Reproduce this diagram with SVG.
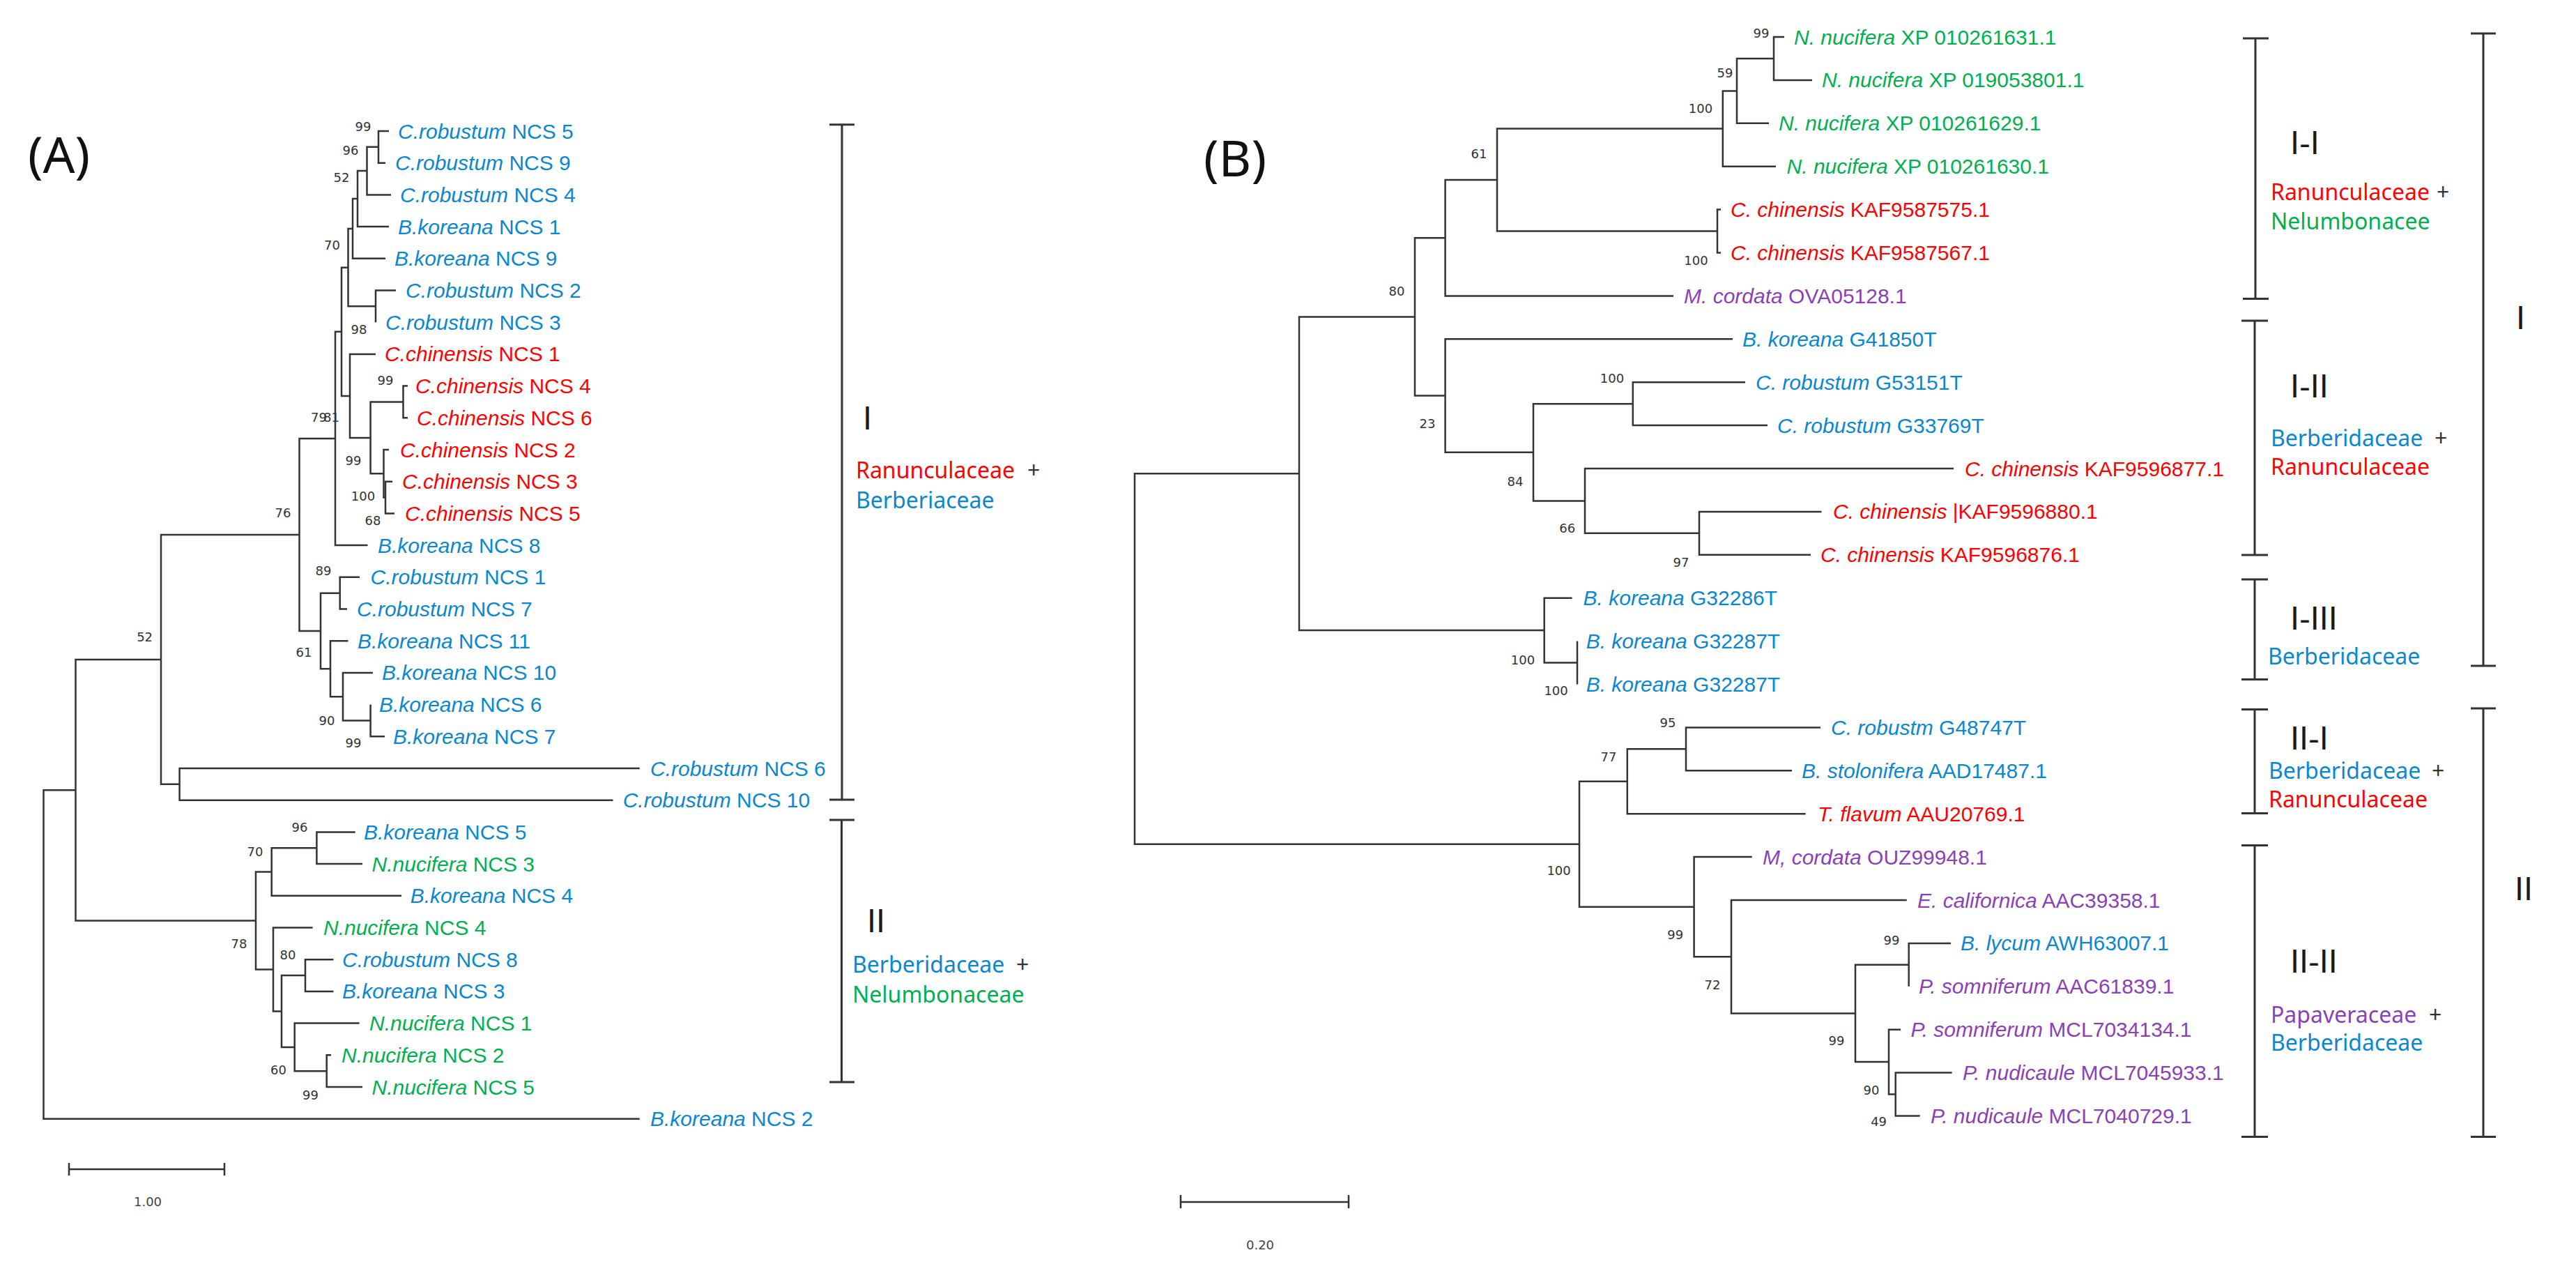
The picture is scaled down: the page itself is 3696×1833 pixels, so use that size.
<svg xmlns="http://www.w3.org/2000/svg" width="3696" height="1833" viewBox="0 0 3696 1833">
<style>
.br{fill:none;stroke:#333;stroke-width:2.5}
.bk{fill:none;stroke:#333;stroke-width:3}
.lf{font-family:"Liberation Sans",Arial,sans-serif;font-size:30px}
.sp{font-style:italic}
.bs{font-family:"DejaVu Sans",Verdana,sans-serif;font-size:18px;fill:#333;text-anchor:middle}
.fam{font-family:"Noto Sans","Open Sans",sans-serif;font-size:32px}
.rom{font-family:"DejaVu Sans",Verdana,sans-serif;font-size:44px;fill:#1a1a1a}
.pl{font-family:"Noto Sans","Open Sans",sans-serif;font-size:72px;fill:#111}
.sc{font-family:"DejaVu Sans",Verdana,sans-serif;font-size:18px;fill:#444;text-anchor:middle}
.b{fill:#0A87CF}.r{fill:#FF0000}.g{fill:#00B050}.p{fill:#8B3FB8}.k{fill:#333}
</style>
<rect width="3696" height="1833" fill="#fff"/>

<g id="panel-labels">
<text class="pl" x="40" y="248">(A)</text>
<text class="pl" x="1727" y="253">(B)</text>
</g>

<g id="connectors">
<!-- Panel A -->
<path class="br" d="M558 188H543V233.7H553"/>
<path class="br" d="M543 210.85H526.5V279.4H561"/>
<path class="br" d="M526.5 245.1H513V325.1H558"/>
<path class="br" d="M513 285.1H506V370.8H553"/>
<path class="br" d="M568 416.5H539V462.2"/>
<path class="br" d="M506 327.95H499.5V439.35H539"/>
<path class="br" d="M585 553.6H578.5V599.3H585"/>
<path class="br" d="M563 690.7H553V736.4H566"/>
<path class="br" d="M558 645H550.5V713.55H553"/>
<path class="br" d="M578.5 576.45H531.6V679.3H550.5"/>
<path class="br" d="M539 507.9H502V627.9H531.6"/>
<path class="br" d="M499.5 383.65H490V567.9H502"/>
<path class="br" d="M490 475.8H481V782.1H527.5"/>
<path class="br" d="M516 827.8H487.7V873.5H498"/>
<path class="br" d="M531.6 1010.6V1056.3H552"/>
<path class="br" d="M535 964.9H492V1033.45H531.6"/>
<path class="br" d="M499.5 919.2H474V999.2H492"/>
<path class="br" d="M487.7 850.65H460V959.2H474"/>
<path class="br" d="M481 628.95H429.5V904.9H460"/>
<path class="br" d="M917.7 1102H257.6V1147.7H879.5"/>
<path class="br" d="M429.5 766.9H231V1124.85H257.6"/>
<path class="br" d="M509.7 1193.4H454.4V1239.1H520"/>
<path class="br" d="M454.4 1216.25H389.7V1284.8H576"/>
<path class="br" d="M478.5 1376.2H438V1421.9H478.5"/>
<path class="br" d="M475 1513.3H468.7V1559H520"/>
<path class="br" d="M515.6 1467.6H422.7V1536.15H468.7"/>
<path class="br" d="M438 1399.05H404V1501.9H422.7"/>
<path class="br" d="M448.6 1330.5H392V1450.5H404"/>
<path class="br" d="M389.7 1250.5H367V1390.5H392"/>
<path class="br" d="M231 945.9H108.5V1320.5H367"/>
<path class="br" d="M108.5 1133.2H62.5V1604.7H917.7"/>
<!-- Panel B -->
<path class="br" d="M2560 53H2545V114.9H2600"/>
<path class="br" d="M2545 84H2492V176.8H2538"/>
<path class="br" d="M2492 130.4H2471.8V238.7H2548"/>
<path class="br" d="M2469 300.6H2464V362.5H2469"/>
<path class="br" d="M2471.8 184.5H2148V331.5H2464"/>
<path class="br" d="M2148 258H2073.6V424.4H2401"/>
<path class="br" d="M2504 548.2H2342.8V610.1H2536"/>
<path class="br" d="M2613.5 733.9H2438V795.8H2598"/>
<path class="br" d="M2803 672H2274V764.85H2438"/>
<path class="br" d="M2342.8 579.15H2200V718.4H2274"/>
<path class="br" d="M2486 486.3H2073.6V648.8H2200"/>
<path class="br" d="M2073.6 341.2H2030V567.55H2073.6"/>
<path class="br" d="M2263 919.6V981.5"/>
<path class="br" d="M2255.6 857.7H2215.7V950.55H2263"/>
<path class="br" d="M2030 454.4H1864V904.1H2215.7"/>
<path class="br" d="M2612 1043.4H2419V1105.3H2571"/>
<path class="br" d="M2419 1074.35H2334.8V1167.2H2590.6"/>
<path class="br" d="M2799 1352.9H2738.7V1414.8"/>
<path class="br" d="M2800.6 1538.6H2719.7V1600.5H2754.7"/>
<path class="br" d="M2727 1476.7H2710V1569.55H2719.7"/>
<path class="br" d="M2738.7 1383.85H2662V1523.1H2710"/>
<path class="br" d="M2735.8 1291H2484V1453.5H2662"/>
<path class="br" d="M2513.7 1229.1H2430.6V1372.25H2484"/>
<path class="br" d="M2334.8 1120.8H2266V1300.7H2430.6"/>
<path class="br" d="M1864 679.25H1628V1210.75H2266"/>
</g>

<g id="bootstrap">
<text class="bs" x="521" y="187.5">99</text>
<text class="bs" x="503" y="221.5">96</text>
<text class="bs" x="490" y="260.5">52</text>
<text class="bs" x="476.5" y="357.5">70</text>
<text class="bs" x="515" y="478.5">98</text>
<text class="bs" x="457.5" y="604.5">79</text>
<text class="bs" x="475.5" y="604.5">81</text>
<text class="bs" x="553" y="551.5">99</text>
<text class="bs" x="507" y="666.5">99</text>
<text class="bs" x="521" y="717.5">100</text>
<text class="bs" x="535" y="752.5">68</text>
<text class="bs" x="406" y="741.5">76</text>
<text class="bs" x="464" y="825">89</text>
<text class="bs" x="436" y="942">61</text>
<text class="bs" x="469" y="1039.5">90</text>
<text class="bs" x="507" y="1072">99</text>
<text class="bs" x="207.6" y="919.5">52</text>
<text class="bs" x="430" y="1192.5">96</text>
<text class="bs" x="366" y="1227.5">70</text>
<text class="bs" x="343" y="1359.5">78</text>
<text class="bs" x="413" y="1375.5">80</text>
<text class="bs" x="399.5" y="1541">60</text>
<text class="bs" x="445.5" y="1576.5">99</text>

<text class="bs" x="2527" y="53.5">99</text>
<text class="bs" x="2475" y="110.5">59</text>
<text class="bs" x="2440" y="161.5">100</text>
<text class="bs" x="2122" y="227">61</text>
<text class="bs" x="2433.5" y="380">100</text>
<text class="bs" x="2004" y="423.5">80</text>
<text class="bs" x="2313" y="549">100</text>
<text class="bs" x="2048" y="613.5">23</text>
<text class="bs" x="2174" y="696.5">84</text>
<text class="bs" x="2248.7" y="763.5">66</text>
<text class="bs" x="2412" y="812.5">97</text>
<text class="bs" x="2185" y="952.5">100</text>
<text class="bs" x="2232.6" y="997">100</text>
<text class="bs" x="2393" y="1043">95</text>
<text class="bs" x="2308" y="1091.5">77</text>
<text class="bs" x="2236.6" y="1254.5">100</text>
<text class="bs" x="2403.7" y="1346.5">99</text>
<text class="bs" x="2714" y="1354.5">99</text>
<text class="bs" x="2457" y="1418.5">72</text>
<text class="bs" x="2635" y="1498.5">99</text>
<text class="bs" x="2685" y="1570">90</text>
<text class="bs" x="2695.6" y="1614.5">49</text>
</g>

<g id="leaves-A" class="lf">
<g id="a1"><text class="b" x="571" y="198.5"><tspan class="sp">C.robustum</tspan> NCS 5</text></g>
<g id="a2"><text class="b" x="567" y="244.2"><tspan class="sp">C.robustum</tspan> NCS 9</text></g>
<g id="a3"><text class="b" x="574" y="289.9"><tspan class="sp">C.robustum</tspan> NCS 4</text></g>
<g id="a4"><text class="b" x="571" y="335.6"><tspan class="sp">B.koreana</tspan> NCS 1</text></g>
<g id="a5"><text class="b" x="566" y="381.3"><tspan class="sp">B.koreana</tspan> NCS 9</text></g>
<g id="a6"><text class="b" x="582" y="427"><tspan class="sp">C.robustum</tspan> NCS 2</text></g>
<g id="a7"><text class="b" x="553" y="472.7"><tspan class="sp">C.robustum</tspan> NCS 3</text></g>
<g id="a8"><text class="r" x="552" y="518.4"><tspan class="sp">C.chinensis</tspan> NCS 1</text></g>
<g id="a9"><text class="r" x="596" y="564.1"><tspan class="sp">C.chinensis</tspan> NCS 4</text></g>
<g id="a10"><text class="r" x="598" y="609.8"><tspan class="sp">C.chinensis</tspan> NCS 6</text></g>
<g id="a11"><text class="r" x="574" y="655.5"><tspan class="sp">C.chinensis</tspan> NCS 2</text></g>
<g id="a12"><text class="r" x="577" y="701.2"><tspan class="sp">C.chinensis</tspan> NCS 3</text></g>
<g id="a13"><text class="r" x="581" y="746.9"><tspan class="sp">C.chinensis</tspan> NCS 5</text></g>
<g id="a14"><text class="b" x="542" y="792.6"><tspan class="sp">B.koreana</tspan> NCS 8</text></g>
<g id="a15"><text class="b" x="531.6" y="838.3"><tspan class="sp">C.robustum</tspan> NCS 1</text></g>
<g id="a16"><text class="b" x="512" y="884"><tspan class="sp">C.robustum</tspan> NCS 7</text></g>
<g id="a17"><text class="b" x="513" y="929.7"><tspan class="sp">B.koreana</tspan> NCS 11</text></g>
<g id="a18"><text class="b" x="548" y="975.4"><tspan class="sp">B.koreana</tspan> NCS 10</text></g>
<g id="a19"><text class="b" x="544" y="1021.1"><tspan class="sp">B.koreana</tspan> NCS 6</text></g>
<g id="a20"><text class="b" x="564" y="1066.8"><tspan class="sp">B.koreana</tspan> NCS 7</text></g>
<g id="a21"><text class="b" x="933" y="1112.5"><tspan class="sp">C.robustum</tspan> NCS 6</text></g>
<g id="a22"><text class="b" x="893.7" y="1158.2"><tspan class="sp">C.robustum</tspan> NCS 10</text></g>
<g id="a23"><text class="b" x="522" y="1203.9"><tspan class="sp">B.koreana</tspan> NCS 5</text></g>
<g id="a24"><text class="g" x="533.6" y="1249.6"><tspan class="sp">N.nucifera</tspan> NCS 3</text></g>
<g id="a25"><text class="b" x="588.7" y="1295.3"><tspan class="sp">B.koreana</tspan> NCS 4</text></g>
<g id="a26"><text class="g" x="464" y="1341"><tspan class="sp">N.nucifera</tspan> NCS 4</text></g>
<g id="a27"><text class="b" x="491" y="1386.7"><tspan class="sp">C.robustum</tspan> NCS 8</text></g>
<g id="a28"><text class="b" x="491" y="1432.4"><tspan class="sp">B.koreana</tspan> NCS 3</text></g>
<g id="a29"><text class="g" x="530" y="1478.1"><tspan class="sp">N.nucifera</tspan> NCS 1</text></g>
<g id="a30"><text class="g" x="490" y="1523.8"><tspan class="sp">N.nucifera</tspan> NCS 2</text></g>
<g id="a31"><text class="g" x="533.5" y="1569.5"><tspan class="sp">N.nucifera</tspan> NCS 5</text></g>
<g id="a32"><text class="b" x="933" y="1615.2"><tspan class="sp">B.koreana</tspan> NCS 2</text></g>
</g>

<g id="leaves-B" class="lf">
<g id="b1"><text class="g" x="2574" y="63.5"><tspan class="sp">N. nucifera</tspan> XP 010261631.1</text></g>
<g id="b2"><text class="g" x="2614" y="125.4"><tspan class="sp">N. nucifera</tspan> XP 019053801.1</text></g>
<g id="b3"><text class="g" x="2552" y="187.3"><tspan class="sp">N. nucifera</tspan> XP 010261629.1</text></g>
<g id="b4"><text class="g" x="2563.6" y="249.2"><tspan class="sp">N. nucifera</tspan> XP 010261630.1</text></g>
<g id="b5"><text class="r" x="2483" y="311.1"><tspan class="sp">C. chinensis</tspan> KAF9587575.1</text></g>
<g id="b6"><text class="r" x="2483" y="373"><tspan class="sp">C. chinensis</tspan> KAF9587567.1</text></g>
<g id="b7"><text class="p" x="2416" y="434.9"><tspan class="sp">M. cordata</tspan> OVA05128.1</text></g>
<g id="b8"><text class="b" x="2500" y="496.8"><tspan class="sp">B. koreana</tspan> G41850T</text></g>
<g id="b9"><text class="b" x="2519" y="558.7"><tspan class="sp">C. robustum</tspan> G53151T</text></g>
<g id="b10"><text class="b" x="2550" y="620.6"><tspan class="sp">C. robustum</tspan> G33769T</text></g>
<g id="b11"><text class="r" x="2819" y="682.5"><tspan class="sp">C. chinensis</tspan> KAF9596877.1</text></g>
<g id="b12"><text class="r" x="2630" y="744.4"><tspan class="sp">C. chinensis</tspan> |KAF9596880.1</text></g>
<g id="b13"><text class="r" x="2612" y="806.3"><tspan class="sp">C. chinensis</tspan> KAF9596876.1</text></g>
<g id="b14"><text class="b" x="2271.6" y="868.2"><tspan class="sp">B. koreana</tspan> G32286T</text></g>
<g id="b15"><text class="b" x="2275.7" y="930.1"><tspan class="sp">B. koreana</tspan> G32287T</text></g>
<g id="b16"><text class="b" x="2275.7" y="992"><tspan class="sp">B. koreana</tspan> G32287T</text></g>
<g id="b17"><text class="b" x="2627" y="1053.9"><tspan class="sp">C. robustm</tspan> G48747T</text></g>
<g id="b18"><text class="b" x="2585" y="1115.8"><tspan class="sp">B. stolonifera</tspan> AAD17487.1</text></g>
<g id="b19"><text class="r" x="2608" y="1177.7"><tspan class="sp">T. flavum</tspan> AAU20769.1</text></g>
<g id="b20"><text class="p" x="2529" y="1239.6"><tspan class="sp">M, cordata</tspan> OUZ99948.1</text></g>
<g id="b21"><text class="p" x="2751" y="1301.5"><tspan class="sp">E. californica</tspan> AAC39358.1</text></g>
<g id="b22"><text class="b" x="2813" y="1363.4"><tspan class="sp">B. lycum</tspan> AWH63007.1</text></g>
<g id="b23"><text class="p" x="2753" y="1425.3"><tspan class="sp">P. somniferum</tspan> AAC61839.1</text></g>
<g id="b24"><text class="p" x="2741.5" y="1487.2"><tspan class="sp">P. somniferum</tspan> MCL7034134.1</text></g>
<g id="b25"><text class="p" x="2816" y="1549.1"><tspan class="sp">P. nudicaule</tspan> MCL7045933.1</text></g>
<g id="b26"><text class="p" x="2770" y="1611"><tspan class="sp">P. nudicaule</tspan> MCL7040729.1</text></g>
</g>

<g id="clade-A-I">
<path class="bk" d="M1190 178.7H1226M1208 178.7V1147M1190 1147H1226"/>
<text class="rom" x="1238" y="616">I</text>
<text class="fam r" x="1228" y="686">Ranunculaceae</text>
<text class="fam k" x="1474" y="686">+</text>
<text class="fam b" x="1228" y="729">Berberiaceae</text>
</g>
<g id="clade-A-II">
<path class="bk" d="M1190 1176H1226M1207.5 1176V1552M1190 1552H1226"/>
<text class="rom" x="1244" y="1337">II</text>
<text class="fam b" x="1223" y="1394.5">Berberidaceae</text>
<text class="fam k" x="1458" y="1394.5">+</text>
<text class="fam g" x="1223" y="1437.6">Nelumbonaceae</text>
</g>

<g id="clade-B-I-I">
<path class="bk" d="M3218 55H3255M3236 55V428.5M3218 428.5H3255"/>
<text class="rom" x="3286" y="221">I-I</text>
<text class="fam r" x="3258" y="287">Ranunculaceae</text>
<text class="fam k" x="3496" y="287">+</text>
<text class="fam g" x="3258" y="329">Nelumbonacee</text>
</g>
<g id="clade-B-I-II">
<path class="bk" d="M3216 460H3254M3235 460V796M3216 796H3254"/>
<text class="rom" x="3286" y="570">I-II</text>
<text class="fam b" x="3258" y="640">Berberidaceae</text>
<text class="fam k" x="3493" y="640">+</text>
<text class="fam r" x="3258" y="681">Ranunculaceae</text>
</g>
<g id="clade-B-I-III">
<path class="bk" d="M3216 831H3254M3235 831V974.5M3216 974.5H3254"/>
<text class="rom" x="3286" y="903">I-III</text>
<text class="fam b" x="3254" y="953">Berberidaceae</text>
</g>
<g id="clade-B-II-I">
<path class="bk" d="M3216 1017.5H3254M3235 1017.5V1166.5M3216 1166.5H3254"/>
<text class="rom" x="3286" y="1075">II-I</text>
<text class="fam b" x="3255" y="1117">Berberidaceae</text>
<text class="fam k" x="3489" y="1117">+</text>
<text class="fam r" x="3255" y="1158">Ranunculaceae</text>
</g>
<g id="clade-B-II-II">
<path class="bk" d="M3216 1212.5H3254M3235 1212.5V1630.5M3216 1630.5H3254"/>
<text class="rom" x="3286" y="1395">II-II</text>
<text class="fam p" x="3258" y="1467">Papaveraceae</text>
<text class="fam k" x="3485" y="1467">+</text>
<text class="fam b" x="3258" y="1507">Berberidaceae</text>
</g>
<g id="clade-B-I">
<path class="bk" d="M3545 48H3581M3563 48V955M3545 955H3581"/>
<text class="rom" x="3610" y="472">I</text>
<text class="rom" x="3608" y="1291">II</text>
</g>
<g id="clade-B-II">
<path class="bk" d="M3545 1016H3581M3563 1016V1630.5M3545 1630.5H3581"/>
</g>

<g id="scale-A">
<path class="br" d="M99 1677H322M99 1668V1686M322 1668V1686"/>
<text class="sc" x="212" y="1730">1.00</text>
</g>
<g id="scale-B">
<path class="br" d="M1694 1724H1935M1694 1714V1733M1935 1714V1733"/>
<text class="sc" x="1808" y="1792">0.20</text>
</g>
</svg>
